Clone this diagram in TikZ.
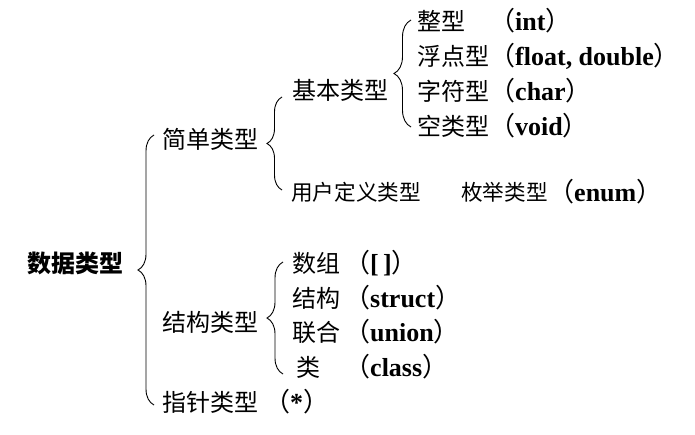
\documentclass[tikz,border=0pt]{standalone}
\usepackage{fontspec}
\setmainfont{Liberation Serif}
\newfontfamily\cjk{Noto Sans CJK SC}
\usetikzlibrary{decorations.pathreplacing}
\tikzset{
  lbl/.style={anchor=west, inner sep=0pt, font=\cjk\fontsize{24}{24}\selectfont},
  rootlbl/.style={anchor=west, inner sep=0pt, font=\cjk\bfseries\fontsize{24}{24}\selectfont},
  smalllbl/.style={anchor=west, inner sep=0pt, font=\cjk\fontsize{21.6}{21.6}\selectfont},
  paren/.style={anchor=west, inner sep=0pt, font=\bfseries\fontsize{26}{26}\selectfont},
  brc/.style={decorate, decoration={brace, amplitude=#1}, line width=0.9pt},
}
\newcommand\lpar{{\cjk\mdseries （}}
\newcommand\rpar{{\cjk\mdseries ）}}
\begin{document}
\begin{tikzpicture}[x=1pt,y=-1pt]
\useasboundingbox (0,0) rectangle (695,434);
% root
\node[rootlbl] (root) at (27,263) {数据类型};
% level 1
\node[lbl] (simple) at (162,139) {简单类型};
\node[lbl] (struct) at (162,322) {结构类型};
\node[lbl] (ptr) at (162,402) {指针类型};
\node[paren] (ptrp) at (264,402) {\lpar*\rpar};
% level 2 under simple
\node[lbl] (basic) at (292,90) {基本类型};
\node[smalllbl] (user) at (291,192) {用户定义类型};
\node[smalllbl] (enumt) at (461,192) {枚举类型};
\node[paren] (enump) at (548,192) {\lpar enum\rpar};
% basic types
\node[lbl] (int) at (417,21) {整型};
\node[lbl] (float) at (417,56) {浮点型};
\node[lbl] (char) at (417,91) {字符型};
\node[lbl] (void) at (417,126) {空类型};
\node[paren] (intp) at (489,21) {\lpar int\rpar};
\node[paren] (floatp) at (489,56) {\lpar float, double\rpar};
\node[paren] (charp) at (489,91) {\lpar char\rpar};
\node[paren] (voidp) at (489,126) {\lpar void\rpar};
% structured types
\node[lbl] (arr) at (292,263) {数组};
\node[lbl] (stru) at (292,298) {结构};
\node[lbl] (uni) at (292,332) {联合};
\node[lbl] (cls) at (296,367) {类};
\node[paren] (arrp) at (344,263) {\lpar[\,]\rpar};
\node[paren] (strup) at (344,298) {\lpar struct\rpar};
\node[paren] (unip) at (344,332) {\lpar union\rpar};
\node[paren] (clsp) at (344,367) {\lpar class\rpar};
% braces
\coordinate (b1t) at (154,135); \coordinate (b1b) at (154,405);
\coordinate (b2t) at (282,97);  \coordinate (b2b) at (282,190);
\coordinate (b3t) at (411,20);  \coordinate (b3b) at (411,127);
\coordinate (b4t) at (283,262); \coordinate (b4b) at (283,374);
\draw[brc=16pt] (b1b) -- (b1t);
\draw[brc=15pt] (b2b) -- (b2t);
\draw[brc=17pt] (b3b) -- (b3t);
\draw[brc=16pt] (b4b) -- (b4t);
\end{tikzpicture}
\end{document}
